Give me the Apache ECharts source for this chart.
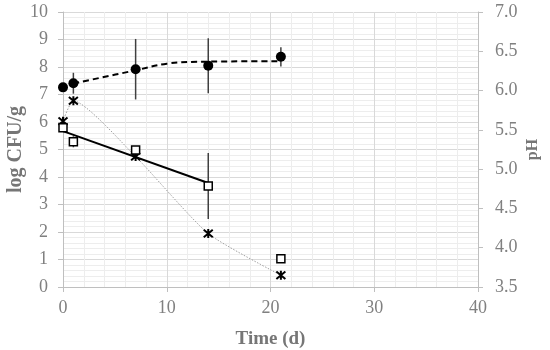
<!DOCTYPE html>
<html><head><meta charset="utf-8">
<script src="https://cdn.jsdelivr.net/npm/echarts@6/dist/echarts.min.js"></script>
<style>html,body{margin:0;padding:0;background:#fff}#c{width:550px;height:350px}</style>
</head><body><div id="c"></div>
<script>
// Circles (log CFU/g)
const circX = [0, 1, 7, 14, 21];
const circY = [7.26, 7.41, 7.92, 8.05, 8.37];
const circErr = [0, 0.38, 1.1, 1.0, 0.35];
const circFitX = [1, 7, 10, 13, 21];
const circFitY = [7.40, 7.88, 8.12, 8.19, 8.21];
// Squares (log CFU/g)
const sqX = [0, 1, 7, 14, 21];
const sqY = [5.79, 5.28, 4.98, 3.67, 1.03];
const sqErr = [0, 0.2, 0, 1.2, 0];
const sqFitX = [0, 14];
const sqFitY = [5.67, 3.78];
// Asterisks (pH, right axis)
const phX = [0, 1, 7, 14, 21];
const phY = [5.61, 5.87, 5.16, 4.18, 3.65];
// Axis ticks
const xTicks = [0, 10, 20, 30, 40];
const leftTicks = [0, 1, 2, 3, 4, 5, 6, 7, 8, 9, 10];
const rightTicks = [3.5, 4.0, 4.5, 5.0, 5.5, 6.0, 6.5, 7.0];

const font = 'Liberation Serif';
const lblColor = '#808080';
const titleColor = '#767676';

function pairs(xs, ys) { return xs.map((x, i) => [x, ys[i]]); }
function errData(xs, ys, es) {
  return xs.map((x, i) => [x, ys[i] - es[i], ys[i] + es[i]]).filter((d, i) => es[i] > 0);
}
function errSeries(data) {
  return {
    type: 'custom', xAxisIndex: 0, yAxisIndex: 0, z: 2, silent: true,
    renderItem: function (params, api) {
      const a = api.coord([api.value(0), api.value(1)]);
      const b = api.coord([api.value(0), api.value(2)]);
      return { type: 'line', shape: { x1: a[0], y1: a[1], x2: b[0], y2: b[1] },
        style: { stroke: '#404040', lineWidth: 1.5 } };
    },
    encode: { x: 0, y: [1, 2] },
    data: data
  };
}

const chart = echarts.init(document.getElementById('c'), null, { renderer: 'canvas' });
chart.setOption({
  animation: false,
  backgroundColor: '#fff',
  grid: { left: 63, right: 72, top: 12, bottom: 63, containLabel: false, outerBoundsMode: 'none' },
  xAxis: {
    type: 'value', min: xTicks[0], max: xTicks[xTicks.length - 1], interval: 10,
    name: 'Time (d)', nameLocation: 'middle', nameGap: 43, nameMoveOverlap: false,
    nameTextStyle: { fontFamily: font, fontSize: 19, fontWeight: 'bold', color: titleColor },
    axisLine: { show: true, lineStyle: { color: '#bfbfbf', width: 1 } },
    axisTick: { show: true, length: 5, lineStyle: { color: '#bfbfbf' } },
    axisLabel: { fontFamily: font, fontSize: 18, color: lblColor, margin: 12 },
    splitLine: { show: true, lineStyle: { color: '#d9d9d9', width: 1 } },
    minorTick: { show: true, splitNumber: 5, length: 0 },
    minorSplitLine: { show: true, lineStyle: { color: '#ededed', width: 1 } }
  },
  yAxis: [{
    type: 'value', min: leftTicks[0], max: leftTicks[leftTicks.length - 1], interval: 1,
    name: 'log CFU/g', nameLocation: 'middle', nameGap: 37, nameRotate: 90, nameMoveOverlap: false,
    nameTextStyle: { fontFamily: font, fontSize: 20, fontWeight: 'bold', color: titleColor },
    axisLine: { show: true, lineStyle: { color: '#bfbfbf', width: 1 } },
    axisTick: { show: true, length: 5, lineStyle: { color: '#bfbfbf' } },
    axisLabel: { fontFamily: font, fontSize: 18, color: lblColor, margin: 15 },
    splitLine: { show: true, lineStyle: { color: '#d9d9d9', width: 1 } },
    minorTick: { show: true, splitNumber: 5, length: 0 },
    minorSplitLine: { show: true, lineStyle: { color: '#ededed', width: 1 } }
  }, {
    type: 'value', position: 'right', min: rightTicks[0], max: rightTicks[rightTicks.length - 1], interval: 0.5,
    name: 'pH', nameLocation: 'middle', nameGap: 47, nameRotate: 90, nameMoveOverlap: false,
    nameTextStyle: { fontFamily: font, fontSize: 16, fontWeight: 'bold', color: titleColor },
    axisLine: { show: true, lineStyle: { color: '#bfbfbf', width: 1 } },
    axisTick: { show: true, length: 5, lineStyle: { color: '#bfbfbf' } },
    axisLabel: { fontFamily: font, fontSize: 18, color: lblColor, margin: 17,
      formatter: v => v.toFixed(1) },
    splitLine: { show: false }
  }],
  series: [
    errSeries(errData(circX, circY, circErr)),
    errSeries(errData(sqX, sqY, sqErr)),
    { type: 'line', yAxisIndex: 0, data: pairs(circFitX, circFitY), smooth: 0.4,
      showSymbol: false, symbol: 'none', z: 3,
      lineStyle: { color: '#000', width: 2, type: [6, 4] } },
    { type: 'line', yAxisIndex: 0, data: pairs(sqFitX, sqFitY), showSymbol: false, symbol: 'none', z: 3,
      lineStyle: { color: '#000', width: 2 } },
    { type: 'line', yAxisIndex: 1, data: pairs(phX, phY), smooth: 0.2, z: 4,
      symbol: 'path://M0,0L10,10M10,0L0,10M5,-1L5,11', symbolSize: 9,
      itemStyle: { color: 'rgba(0,0,0,0)', borderColor: '#000', borderWidth: 2 },
      lineStyle: { color: '#a0a0a0', width: 1, type: [1.5, 1.5] } },
    { type: 'scatter', yAxisIndex: 0, data: pairs(circX, circY), symbol: 'circle', symbolSize: 10, z: 5,
      itemStyle: { color: '#000', opacity: 1 } },
    { type: 'scatter', yAxisIndex: 0, data: pairs(sqX, sqY), symbol: 'rect', symbolSize: 8, z: 5,
      itemStyle: { color: '#fff', borderColor: '#000', borderWidth: 1.5, opacity: 1 } }
  ]
});
</script></body></html>
